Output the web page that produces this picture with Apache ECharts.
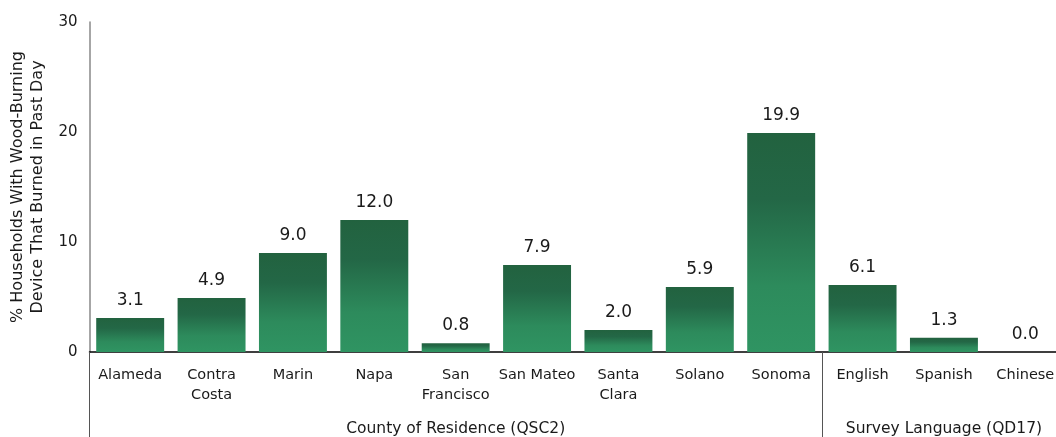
<!DOCTYPE html>
<html><head><meta charset="utf-8">
<script src="https://cdn.jsdelivr.net/npm/echarts@6/dist/echarts.min.js"></script>
<style>html,body{margin:0;padding:0;background:#fff}#c{width:1056px;height:437px}</style>
</head><body><div id="c"></div>
<script>
const categories = ['Alameda','Contra\nCosta','Marin','Napa','San\nFrancisco','San Mateo','Santa\nClara','Solano','Sonoma','English','Spanish','Chinese'];
const values = [3.1, 4.9, 9.0, 12.0, 0.8, 7.9, 2.0, 5.9, 19.9, 6.1, 1.3, 0.0];
const groupLabels = ['', '', '', '', 'County of Residence (QSC2)', '', '', '', '', '', 'Survey Language (QD17)', ''];
const groupStarts = [0, 9];
const yTicks = [0, 10, 20, 30];
const yName = '% Households With Wood-Burning\nDevice That Burned in Past Day';

const font = 'DejaVu Sans';
const chart = echarts.init(document.getElementById('c'));
chart.setOption({
  animation: false,
  textStyle: { fontFamily: font },
  grid: { left: 89.5, right: -10, top: 22, bottom: 85, containLabel: false, outerBoundsMode: 'none' },
  xAxis: [{
    type: 'category', data: categories,
    axisLine: { lineStyle: { color: '#000', width: 1.5 } },
    axisTick: { show: false },
    axisLabel: { color: '#1a1a1a', fontSize: 14.5, margin: 13, lineHeight: 20, interval: 0 }
  }, {
    type: 'category', data: groupLabels, position: 'bottom',
    axisLine: { show: false },
    axisTick: { show: true, length: 86, interval: (i) => groupStarts.includes(i), lineStyle: { color: '#555', width: 1 } },
    axisLabel: { color: '#1a1a1a', fontSize: 15.5, margin: 69, interval: (i, v) => v !== '' }
  }],
  yAxis: {
    type: 'value', min: yTicks[0], max: yTicks[yTicks.length - 1], interval: 10,
    name: yName, nameLocation: 'middle', nameGap: 42, nameRotate: 90,
    nameTextStyle: { color: '#1a1a1a', fontSize: 16, lineHeight: 20 },
    axisLine: { show: true, lineStyle: { color: '#888', width: 1.5 } },
    axisTick: { show: false },
    splitLine: { show: false },
    axisLabel: { color: '#1a1a1a', fontSize: 15, margin: 12 }
  },
  series: [{
    type: 'bar', data: values, barCategoryGap: '16.5%',
    itemStyle: {
      color: new echarts.graphic.LinearGradient(0, 0, 0, 1, [
        { offset: 0, color: '#22623f' },
        { offset: 0.3, color: '#236746' },
        { offset: 0.7, color: '#2d8b5c' },
        { offset: 1, color: '#2f9462' }
      ])
    },
    label: { show: true, position: 'top', distance: 9, fontSize: 17, color: '#1a1a1a', formatter: (p) => p.value.toFixed(1) }
  }]
});
</script></body></html>
